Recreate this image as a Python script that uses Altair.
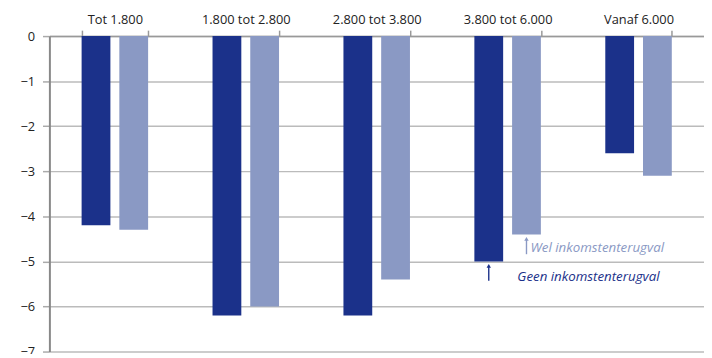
import altair as alt
import pandas as pd

categories = ["Tot 1.800", "1.800 tot 2.800", "2.800 tot 3.800", "3.800 tot 6.000", "Vanaf 6.000"]
series = ["Geen inkomstenterugval", "Wel inkomstenterugval"]
geen = [-4.2, -6.2, -6.2, -5.0, -2.6]
wel = [-4.3, -6.0, -5.4, -4.4, -3.1]
colors = ["#1b318a", "#8a99c4"]

rows = []
for c, g, w in zip(categories, geen, wel):
    rows.append({"cat": c, "series": series[0], "value": g})
    rows.append({"cat": c, "series": series[1], "value": w})
df = pd.DataFrame(rows)

# annotations: arrow bottom (y0), arrow tip (y1), text baseline (ty)
ann_wel = pd.DataFrame([{"cat": "3.800 tot 6.000", "series": series[1],
                         "y0": -4.84, "y1": -4.5, "ty": -4.79, "label": "Wel inkomstenterugval"}])
ann_geen = pd.DataFrame([{"cat": "3.800 tot 6.000", "series": series[0],
                          "y0": -5.43, "y1": -5.1, "ty": -5.43, "label": "Geen inkomstenterugval"}])
ann = pd.concat([ann_wel, ann_geen], ignore_index=True)

font = "Open Sans"
xsc = alt.Scale(domain=categories, paddingInner=0.492, paddingOuter=0.246)
xosc = alt.Scale(domain=series, paddingInner=0.237, paddingOuter=0)
ysc = alt.Scale(domain=[-7, 0], nice=False)
csc = alt.Scale(domain=series, range=colors)

x_enc = alt.X("cat:N", scale=xsc, sort=categories,
              axis=alt.Axis(orient="top", title=None, labelAngle=0, tickBand="extent",
                            domainColor="#999999", domainWidth=1.5, tickColor="#999999",
                            tickWidth=1.5, tickSize=6, labelFontSize=13, labelFont=font,
                            labelColor="#222222", labelPadding=4))
y_enc = alt.Y("value:Q", scale=ysc,
              axis=alt.Axis(title=None, values=list(range(-7, 1)), format="d",
                            domainColor="#888888", domainWidth=2, tickColor="#aaaaaa",
                            tickWidth=1.5, tickSize=7, gridColor="#bbbbbb", gridWidth=1.5,
                            labelFontSize=13, labelFont=font, labelColor="#222222",
                            labelPadding=8,
                            labelExpr="datum.value < 0 ? '\u2212' + abs(datum.value) : datum.value"))

xa = alt.X("cat:N", scale=xsc, sort=categories)
xo = alt.XOffset("series:N", scale=xosc, sort=series)
col = alt.Color("series:N", scale=csc, legend=None)

bars = alt.Chart(df).mark_bar().encode(x=x_enc, xOffset=xo, y=y_enc, color=col)

stems = alt.Chart(ann).mark_bar(width=1.4).encode(
    x=xa, xOffset=xo, y=alt.Y("y0:Q", scale=ysc), y2="y1:Q", color=col)

heads = alt.Chart(ann).mark_point(shape="triangle-up", filled=True, size=20, opacity=1).encode(
    x=xa, xOffset=xo, y=alt.Y("y1:Q", scale=ysc), color=col)

text_wel = alt.Chart(ann_wel).mark_text(align="left", baseline="alphabetic", fontStyle="italic",
                                        fontSize=13.5, font=font, dx=4).encode(
    x=xa, xOffset=xo, y=alt.Y("ty:Q", scale=ysc), text="label:N", color=col)

text_geen = alt.Chart(ann_geen).mark_text(align="left", baseline="alphabetic", fontStyle="italic",
                                          fontSize=13.5, font=font, dx=29).encode(
    x=xa, xOffset=xo, y=alt.Y("ty:Q", scale=ysc), text="label:N", color=col)

chart = alt.layer(bars, stems, heads, text_wel, text_geen).properties(
    width=664, height=320,
    autosize=alt.AutoSizeParams(type="none"),
    padding={"left": 42, "top": 26, "right": 0, "bottom": 0},
).configure_view(stroke=None).configure_axisX(grid=False)

chart.save("out.html", embed_options={"renderer": "svg", "actions": False})
